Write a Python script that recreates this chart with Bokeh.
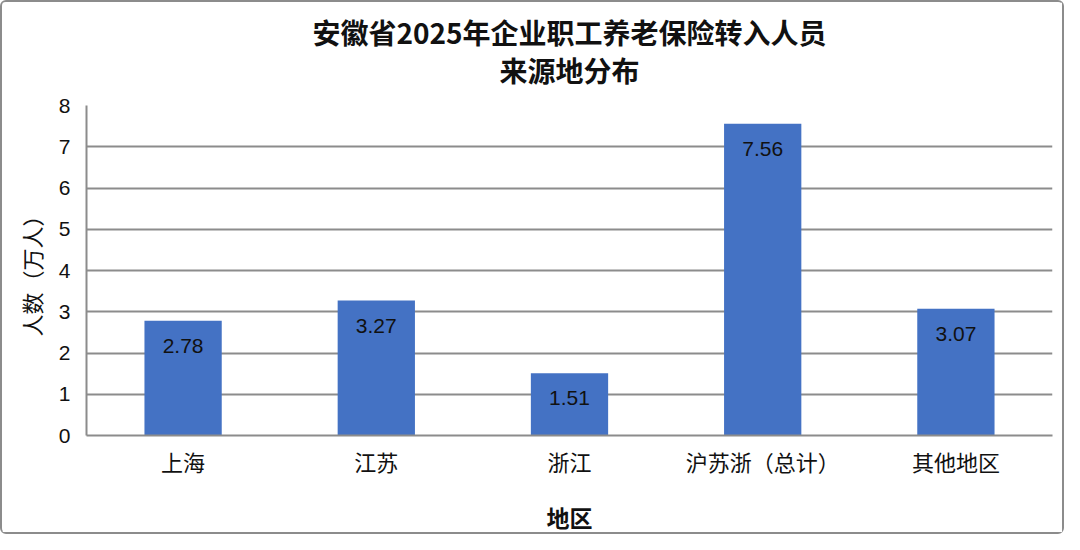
from bokeh.plotting import figure
from bokeh.models import ColumnDataSource, LabelSet, Title, Range1d, FixedTicker
from bokeh.core.properties import value
from bokeh.embed import file_html
from bokeh.resources import INLINE

regions = ["上海", "江苏", "浙江", "沪苏浙（总计）", "其他地区"]
people = [2.78, 3.27, 1.51, 7.56, 3.07]
labels = ["2.78", "3.27", "1.51", "7.56", "3.07"]
y_ticks = [0, 1, 2, 3, 4, 5, 6, 7, 8]

title_line1 = "安徽省2025年企业职工养老保险转入人员"
title_line2 = "来源地分布"
x_title = "地区"
y_title = "人数（万人）"

CJK = "Noto Sans CJK SC"
LATIN = "Liberation Sans"
GRID = "#8c8c8c"

source = ColumnDataSource(dict(region=regions, people=people, label=labels))

p = figure(
    x_range=regions,
    y_range=Range1d(0, 8),
    width=1064,
    height=534,
    output_backend="svg",
    toolbar_location=None,
    min_border_left=84,
    min_border_right=14,
    min_border_top=103,
    min_border_bottom=99,
)
p.styles = {"border": "2px solid #8c8c8c", "border-radius": "6px", "box-sizing": "border-box"}

p.vbar(x="region", top="people", width=0.4, source=source,
       fill_color="#4472C4", line_color=None)

p.add_layout(LabelSet(x="region", y="people", text="label", source=source,
                      text_align="center", text_baseline="top", y_offset=-18,
                      text_font=value(LATIN), text_font_size="21px", text_color="#111111"))

# two centred title lines (inner line added first)
p.add_layout(Title(text=title_line2, align="center", text_font=CJK,
                   text_font_size="28px", text_font_style="bold",
                   text_color="#111111", standoff=31), "above")
p.add_layout(Title(text=title_line1, align="center", text_font=CJK,
                   text_font_size="28px", text_font_style="bold",
                   text_color="#111111", standoff=-38), "above")

# grid
p.xgrid.grid_line_color = None
p.ygrid.grid_line_color = GRID
p.ygrid.grid_line_width = 2
p.outline_line_color = None

# y axis
p.yaxis.ticker = FixedTicker(ticks=y_ticks)
p.yaxis.axis_line_color = GRID
p.yaxis.axis_line_width = 2
p.yaxis.major_tick_line_color = None
p.yaxis.minor_tick_line_color = None
p.yaxis.major_tick_out = 0
p.yaxis.major_tick_in = 0
p.yaxis.minor_tick_out = 0
p.yaxis.major_label_text_font = LATIN
p.yaxis.major_label_text_font_size = "21px"
p.yaxis.major_label_text_color = "#111111"
p.yaxis.major_label_standoff = 16
p.yaxis.axis_label = y_title
p.yaxis.axis_label_text_font = CJK
p.yaxis.axis_label_text_font_size = "22px"
p.yaxis.axis_label_text_font_style = "normal"
p.yaxis.axis_label_text_color = "#111111"
p.yaxis.axis_label_standoff = 9

# x axis
p.xaxis.axis_line_color = GRID
p.xaxis.axis_line_width = 2
p.xaxis.major_tick_line_color = None
p.xaxis.minor_tick_line_color = None
p.xaxis.major_tick_out = 0
p.xaxis.major_tick_in = 0
p.xaxis.minor_tick_out = 0
p.xaxis.major_label_text_font = CJK
p.xaxis.major_label_text_font_size = "22px"
p.xaxis.major_label_text_color = "#111111"
p.xaxis.major_label_standoff = 9
p.xaxis.axis_label = x_title
p.xaxis.axis_label_text_font = CJK
p.xaxis.axis_label_text_font_size = "23px"
p.xaxis.axis_label_text_font_style = "bold"
p.xaxis.axis_label_text_color = "#111111"
p.xaxis.axis_label_standoff = 20

p.background_fill_color = "white"
p.border_fill_color = "white"

open("out.html", "w").write(file_html(p, INLINE))
